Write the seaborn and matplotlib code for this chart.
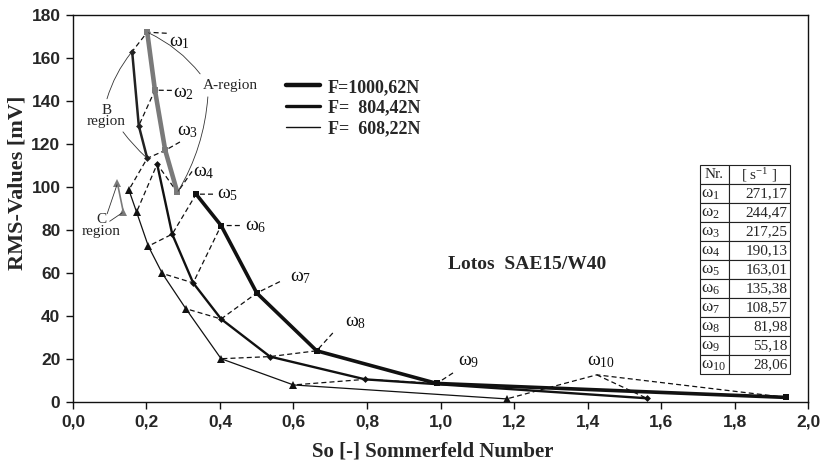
import matplotlib
matplotlib.use("Agg")
import matplotlib.pyplot as plt
from matplotlib.lines import Line2D
import seaborn as sns
import pandas as pd

# ---------------- data ----------------
omega_names = [f"ω$_{{{i}}}$" for i in range(1, 11)]
omega_values = ["271,17", "244,47", "217,25", "190,13", "163,01",
                "135,38", "108,57", "81,98", "55,18", "28,06"]

# F = 1000,62 N  (omega1..omega10); omega1-4 = A-region
f1000_x = [0.202, 0.223, 0.251, 0.284, 0.335, 0.403, 0.500, 0.663, 0.990, 1.940]
f1000_y = [172.0, 145.0, 117.0, 97.4, 96.6, 82.0, 50.6, 23.7, 8.5, 2.0]
# F = 804,42 N  (omega1..omega10); omega1-3 = B-region
f804_x = [0.161, 0.179, 0.202, 0.229, 0.270, 0.327, 0.403, 0.536, 0.795, 1.561]
f804_y = [163.0, 128.5, 113.3, 110.6, 78.0, 55.3, 38.5, 21.0, 10.4, 1.6]
# F = 608,22 N  (omega1..omega10); omega1-2 = C-region
f608_x = [0.121, 0.137, 0.152, 0.173, 0.205, 0.243, 0.307, 0.403, 0.600, 1.180]
f608_y = [101.6, 88.3, 98.6, 88.3, 72.4, 59.7, 43.3, 20.0, 7.8, 1.3]

legend_labels = ["F=1000,62N", "F=  804,42N", "F=  608,22N"]
x_ticks = [0.0, 0.2, 0.4, 0.6, 0.8, 1.0, 1.2, 1.4, 1.6, 1.8, 2.0]
y_ticks = [0, 20, 40, 60, 80, 100, 120, 140, 160, 180]

# omega label positions and dashed-connector anchors (data coords)
lab_x = [0.262, 0.272, 0.283, 0.327, 0.392, 0.468, 0.590, 0.740, 1.048, 1.399]
lab_y = [167.0, 143.3, 125.6, 106.9, 96.6, 81.6, 57.8, 36.7, 18.6, 18.6]
anc_x = [0.255, 0.269, 0.291, 0.324, 0.381, 0.454, 0.563, 0.707, 1.034, 1.425]
anc_y = [171.5, 144.9, 120.9, 107.2, 96.6, 82.0, 55.9, 32.0, 13.4, 12.5]
n_A, n_B, n_C = 4, 3, 2

# ---------------- style ----------------
sns.set_style("ticks")
plt.rcParams["font.family"] = ["Liberation Serif", "DejaVu Serif"]
plt.rcParams["mathtext.fontset"] = "custom"
plt.rcParams["mathtext.rm"] = "Liberation Serif"
plt.rcParams["mathtext.it"] = "Liberation Serif:italic"
plt.rcParams["mathtext.bf"] = "Liberation Serif:bold"

fig = plt.figure(figsize=(8.21, 4.69), dpi=100)
ax = fig.add_axes([0.0889, 0.1435, 0.8953, 0.8245])

blk = "#111111"
gray = "#7a7a7a"

def line(xs, ys, color, lw, marker, ms):
    df = pd.DataFrame({"x": xs, "y": ys})
    sns.lineplot(data=df, x="x", y="y", ax=ax, sort=False, estimator=None,
                 color=color, linewidth=lw, marker=marker, markersize=ms,
                 markeredgewidth=0, zorder=3)

# dashed omega connectors
dash = (0, (4, 2.5))
for i in range(10):
    if i == 9:
        px = [f1000_x[i], anc_x[i], f608_x[i]]
        py = [f1000_y[i], anc_y[i], f608_y[i]]
        ax.plot(px, py, ls=dash, color=blk, lw=0.9, zorder=2)
        ax.plot([anc_x[i], f804_x[i]], [anc_y[i], f804_y[i]],
                ls=dash, color=blk, lw=0.9, zorder=2)
    else:
        px = [anc_x[i], f1000_x[i], f804_x[i]]
        py = [anc_y[i], f1000_y[i], f804_y[i]]
        if i >= 2:
            px.append(f608_x[i]); py.append(f608_y[i])
        ax.plot(px, py, ls=dash, color=blk, lw=0.9, zorder=2)
    ax.text(lab_x[i], lab_y[i], omega_names[i], fontsize=14, ha="left",
            va="center", color=blk)

# curves
line(f1000_x[:n_A], f1000_y[:n_A], gray, 3.3, "s", 5)
line(f1000_x[n_A:], f1000_y[n_A:], blk, 2.6, "s", 5)
line(f804_x[:n_B], f804_y[:n_B], "#222222", 1.8, "D", 3.5)
line(f804_x[n_B:], f804_y[n_B:], blk, 1.7, "D", 3.5)
line(f608_x[:n_C], f608_y[:n_C], gray, 1.2, "^", 6)
line(f608_x[n_C:], f608_y[n_C:], blk, 0.9, "^", 6)

# region labels with thin curved leaders
ax.text(0.4286, 147.0, "A-region", fontsize=11, ha="center", va="center")
ax.text(0.091, 133.0, "B\nregion", fontsize=11, ha="center", va="center",
        linespacing=0.85)
ax.text(0.077, 82.0, "C\nregion", fontsize=11, ha="center", va="center",
        linespacing=0.85)
lead = dict(arrowstyle="-", color="#333333", lw=0.6, shrinkA=0, shrinkB=1)
def leader(x0, y0, x1, y1, rad):
    ax.annotate("", xy=(x1, y1), xytext=(x0, y0),
                arrowprops=dict(lead, connectionstyle=f"arc3,rad={rad}"))
leader(0.346, 152.6, f1000_x[0], f1000_y[0], 0.12)
leader(0.367, 141.9, f1000_x[3], f1000_y[3], -0.12)
leader(0.0925, 141.0, f804_x[0], f804_y[0], -0.1)
leader(0.136, 125.6, f804_x[2], f804_y[2], 0.05)
leader(0.093, 87.5, f608_x[0], f608_y[0], 0.0)
leader(0.100, 84.0, f608_x[1], f608_y[1], 0.0)

# product text
ax.text(1.02, 63.9, "Lotos  SAE15/W40", fontsize=14, fontweight="bold",
        ha="left", va="center")

# legend
handles = [Line2D([], [], color=blk, lw=3.2),
           Line2D([], [], color=blk, lw=2.4),
           Line2D([], [], color=blk, lw=1.0)]
leg = ax.legend(handles, legend_labels, loc="upper left",
                bbox_to_anchor=(0.29, 0.835), frameon=False,
                prop={"family": "Liberation Serif", "weight": "bold", "size": 13},
                handlelength=1.9, handletextpad=0.4, labelspacing=0.2,
                borderaxespad=0, borderpad=0)

# table
cell_text = [["Nr.", "[ s$^{-1}$ ]"]] + [[n, v] for n, v in zip(omega_names, omega_values)]
tab = ax.table(cellText=cell_text, cellLoc="right", colWidths=[0.32, 0.68],
               bbox=[0.853, 0.0716, 0.1224, 0.540], zorder=5)
tab.auto_set_font_size(False)
for (r, c), cell in tab.get_celld().items():
    cell.set_linewidth(0.8)
    cell.set_edgecolor("#222222")
    cell.set_facecolor("white")
    t = cell.get_text()
    t.set_fontsize(11)
    t.set_family("Liberation Serif")
    cell.PAD = 0.04
    if c == 0:
        t.set_ha("left")
        if r > 0:
            t.set_fontsize(12.5)
    if r == 0:
        t.set_ha("center")

# axes
ax.set_xlim(0, 2.0)
ax.set_ylim(0, 180)
ax.set_xticks(x_ticks)
ax.set_yticks(y_ticks)
tick_font = dict(family=["Liberation Sans Narrow", "Liberation Sans"],
                 weight="bold", size=12.5)
ax.set_xticklabels([f"{t:.1f}".replace(".", ",") for t in x_ticks], **tick_font)
ax.set_yticklabels([str(t) for t in y_ticks], **tick_font)
ax.tick_params(direction="out", length=5, width=1, color=blk, pad=4)
for s in ax.spines.values():
    s.set_visible(True)
    s.set_linewidth(1.0)
    s.set_color(blk)
ax.set_xlabel("So [-] Sommerfeld Number", fontsize=15, fontweight="bold",
              family="Liberation Serif", va="center")
ax.set_ylabel("RMS-Values [mV]", fontsize=16, fontweight="bold",
              family="Liberation Serif", va="center")
ax.yaxis.set_label_coords(-0.075, 0.565)
ax.xaxis.set_label_coords(0.49, -0.13)

fig.savefig("out.png", dpi=100)
